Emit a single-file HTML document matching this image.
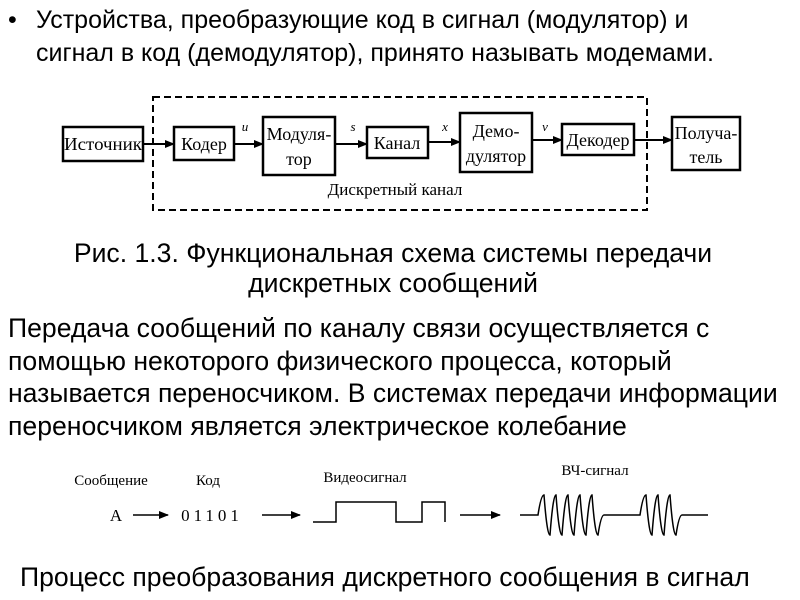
<!DOCTYPE html>
<html><head><meta charset="utf-8"><style>
body{margin:0;width:800px;height:600px;background:#fff;position:relative;overflow:hidden;font-family:"Liberation Sans",sans-serif;color:#000}
.t{position:absolute;font-size:26.6px;white-space:nowrap;line-height:32.5px}
</style></head><body>
<div class="t" style="left:8px;top:4px;font-size:25px">•</div>
<div class="t" style="left:36px;top:4px;font-size:25px">Устройства, преобразующие код в сигнал (модулятор) и<br>сигнал в код (демодулятор), принято называть модемами.</div>
<svg style="position:absolute;left:0;top:0" width="800" height="600" font-family="Liberation Serif, serif">
<defs><marker id="a" markerWidth="10" markerHeight="8" refX="9" refY="4" orient="auto" markerUnits="userSpaceOnUse"><path d="M0,0L10,4L0,8z"/></marker></defs>
<rect x="153" y="97" width="494" height="113" fill="none" stroke="#000" stroke-width="2" stroke-dasharray="7,4"/>
<g fill="none" stroke="#000" stroke-width="2.5">
<rect x="63" y="127" width="80" height="34"/><rect x="174" y="127" width="60" height="33"/>
<rect x="263" y="117" width="72" height="58"/><rect x="367" y="127" width="61" height="31"/>
<rect x="460" y="113" width="72" height="59"/><rect x="562" y="124" width="72" height="31"/>
<rect x="672" y="117" width="68" height="53"/></g>
<g stroke="#000" stroke-width="2" marker-end="url(#a)">
<line x1="143" y1="144" x2="174" y2="144"/><line x1="234" y1="144" x2="263" y2="144"/>
<line x1="335" y1="144" x2="367" y2="144"/><line x1="428" y1="142" x2="460" y2="142"/>
<line x1="532" y1="140" x2="562" y2="140"/><line x1="634" y1="140" x2="672" y2="140"/></g>
<g font-size="18" text-anchor="middle">
<text x="103" y="150" textLength="78" lengthAdjust="spacingAndGlyphs">Источник</text><text x="204" y="150">Кодер</text>
<text x="299" y="140">Модуля-</text><text x="299" y="165">тор</text>
<text x="397" y="149">Канал</text>
<text x="496" y="137">Демо-</text><text x="496" y="162">дулятор</text>
<text x="598" y="146">Декодер</text>
<text x="706" y="139">Получа-</text><text x="706" y="163">тель</text>
<text x="395" y="195" font-size="17">Дискретный канал</text>
<g font-style="italic" font-size="13"><text x="245" y="131">u</text><text x="353" y="131">s</text><text x="445" y="131">x</text><text x="545" y="131">v</text></g>
</g>
<g font-size="15" text-anchor="middle">
<text x="111" y="485">Сообщение</text><text x="208" y="485">Код</text>
<text x="365" y="482">Видеосигнал</text><text x="595" y="475">ВЧ-сигнал</text>
<text x="116" y="521" font-size="17">A</text><text x="212" y="521" font-size="17" letter-spacing="4">01101</text>
</g>
<g stroke="#000" stroke-width="1.5" fill="none">
<line x1="133" y1="515" x2="168" y2="515" marker-end="url(#a)"/>
<line x1="262" y1="515" x2="300" y2="515" marker-end="url(#a)"/>
<line x1="460" y1="515" x2="500" y2="515" marker-end="url(#a)"/>
<path d="M313,522H336V502H396V522H422V502H445V522"/>
<path d="M520,515H538 Q541,495 544,495 Q547,535 550,535 Q553,495 556,495 Q559,535 562,535 Q565,495 568,495 Q571,535 574,535 Q577,495 580,495 Q583,535 586,535 Q589,495 592,495 Q595,535 598,535 Q601,515 604,515H640 Q643,495 646,495 Q649,535 652,535 Q655,495 658,495 Q661,535 664,535 Q667,495 670,495 Q673,535 676,535 Q679,515 682,515H708"/>
</g>
</svg>
<div class="t" style="left:0;width:786px;text-align:center;top:238px;line-height:30px">Рис. 1.3. Функциональная схема системы передачи<br>дискретных сообщений</div>
<div class="t" style="left:8px;top:312px">Передача сообщений по каналу связи осуществляется с<br>помощью некоторого физического процесса, который<br>называется переносчиком. В системах передачи информации<br>переносчиком является электрическое колебание</div>
<div class="t" style="left:20px;top:561px">Процесс преобразования дискретного сообщения в сигнал</div>
</body></html>
